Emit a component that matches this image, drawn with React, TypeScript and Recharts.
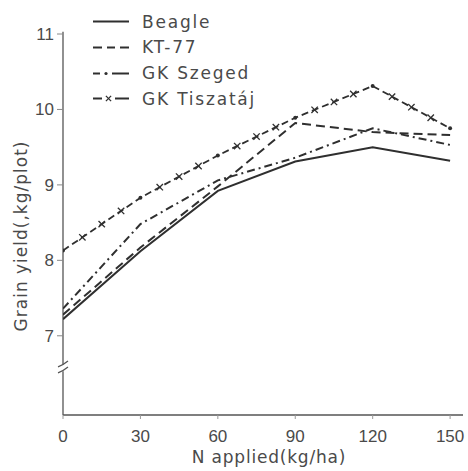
import React from 'react';
import { LineChart, Line, XAxis, YAxis, ReferenceLine, ReferenceDot, Customized } from 'recharts';

const nApplied = [0, 30, 60, 90, 120, 150];
const beagle = [7.22, 8.12, 8.92, 9.31, 9.5, 9.32];
const kt77 = [7.28, 8.17, 8.98, 9.82, 9.7, 9.66];
const gkSzeged = [7.36, 8.48, 9.06, 9.36, 9.75, 9.53];
const gkTiszataj = [8.13, 8.83, 9.39, 9.89, 10.31, 9.75];
const seriesNames = ['Beagle', 'KT-77', 'GK Szeged', 'GK Tiszatáj'];
const xTicks = [0, 30, 60, 90, 120, 150];
const yTicks = [7, 8, 9, 10, 11];

const data = nApplied.map((n, i) => ({
  n,
  beagle: beagle[i],
  kt77: kt77[i],
  szeged: gkSzeged[i],
  tisz: gkTiszataj[i],
}));

const LINE = '#2f2f2f';
const TEXT = '#4a4a4a';
const AXIS = '#555';
const FONT = '"DejaVu Sans", sans-serif';
const TICKFONT = '"Liberation Sans", Arial, sans-serif';

const XMark = ({ x, y, s = 3.2 }: { x: number; y: number; s?: number }) => (
  <g stroke={LINE} strokeWidth={1.3}>
    <line x1={x - s} y1={y - s} x2={x + s} y2={y + s} />
    <line x1={x - s} y1={y + s} x2={x + s} y2={y - s} />
  </g>
);

const TiszDot = (props: any) => {
  const { cx, cy, index, points } = props;
  const els: React.ReactNode[] = [<circle key="c" cx={cx} cy={cy} r={2} fill={LINE} />];
  if (points && index < points.length - 1) {
    const nx = points[index + 1];
    [0.25, 0.5, 0.75].forEach((t) => {
      const x = cx + (nx.x - cx) * t;
      const y = cy + (nx.y - cy) * t;
      els.push(<XMark key={'x' + t} x={x} y={y} />);
    });
  }
  return <g key={'td' + index}>{els}</g>;
};

const LegendBlock = () => {
  const x0 = 93;
  const x1 = 129;
  const tx = 142;
  const rows = [21.5, 47.5, 73.5, 98.5];
  const base = [27.5, 53, 79, 104.5];
  return (
    <g>
      <line x1={x0} y1={rows[0]} x2={x1} y2={rows[0]} stroke={LINE} strokeWidth={2} />
      <g stroke={LINE} strokeWidth={2}>
        <line x1={93} y1={rows[1]} x2={102} y2={rows[1]} />
        <line x1={107} y1={rows[1]} x2={115} y2={rows[1]} />
        <line x1={120} y1={rows[1]} x2={129} y2={rows[1]} />
      </g>
      <g stroke={LINE} strokeWidth={2}>
        <line x1={93} y1={rows[2]} x2={100} y2={rows[2]} />
        <line x1={112} y1={rows[2]} x2={129} y2={rows[2]} />
      </g>
      <circle cx={106} cy={rows[2]} r={1.6} fill={LINE} />
      <g stroke={LINE} strokeWidth={2}>
        <line x1={93} y1={rows[3]} x2={102} y2={rows[3]} />
        <line x1={115} y1={rows[3]} x2={129} y2={rows[3]} />
      </g>
      <XMark x={108.5} y={rows[3]} s={2.6} />
      {seriesNames.map((s, i) => (
        <text key={s} x={tx} y={base[i]} fill={TEXT} fontSize={17} fontFamily={FONT} letterSpacing={1.8}>
          {s}
        </text>
      ))}
    </g>
  );
};

const BreakShape = (props: any) => {
  const { cx, cy } = props;
  return (
    <g stroke={AXIS} strokeWidth={1.3} fill="none">
      <path d={`M${cx - 5},${cy + 1} Q${cx},${cy - 1} ${cx + 5},${cy - 5}`} />
      <path d={`M${cx - 5},${cy + 7} Q${cx},${cy + 5} ${cx + 5},${cy + 1}`} />
    </g>
  );
};

const YLabel = () => (
  <text
    x={27}
    y={236}
    transform="rotate(-90, 27, 236)"
    textAnchor="middle"
    fill={TEXT}
    fontSize={17}
    fontFamily={FONT}
    letterSpacing={1}
  >
    Grain yield(,kg/plot)
  </text>
);

const XLabel = () => (
  <text x={269} y={463} textAnchor="middle" fill={TEXT} fontSize={17} fontFamily={FONT} letterSpacing={0.8}>
    N applied(kg/ha)
  </text>
);

export default function App() {
  return (
    <div style={{ position: 'absolute', left: 0, top: 0, background: '#fff' }}>
      <LineChart width={468} height={471} data={data} margin={{ top: 34, right: 5, left: 0, bottom: 0 }}>
        <XAxis
          dataKey="n"
          type="number"
          domain={[0, 155]}
          ticks={xTicks}
          allowDataOverflow
          height={56}
          tickSize={4}
          tickMargin={11}
          stroke={AXIS}
          tick={{ fill: TEXT, fontSize: 17, fontFamily: TICKFONT }}
          axisLine={{ stroke: AXIS, strokeWidth: 1.3 }}
          tickLine={{ stroke: '#999' }}
        />
        <YAxis
          type="number"
          domain={[5.95, 11]}
          ticks={yTicks}
          allowDataOverflow
          width={63}
          tickSize={6}
          tickMargin={3}
          axisLine={false}
          tick={{ fill: TEXT, fontSize: 17, fontFamily: TICKFONT }}
          tickLine={{ stroke: '#888' }}
        />
        <ReferenceLine
          segment={[{ x: 0, y: 11.03 }, { x: 0, y: 6.62 }]}
          stroke={AXIS}
          strokeWidth={1.3}
          ifOverflow="visible"
        />
        <ReferenceLine
          segment={[{ x: 0, y: 6.53 }, { x: 0, y: 5.95 }]}
          stroke={AXIS}
          strokeWidth={1.3}
          ifOverflow="visible"
        />
        <ReferenceDot x={0} y={6.6} r={0} ifOverflow="visible" shape={BreakShape} />
        <Line dataKey="beagle" stroke={LINE} strokeWidth={2} dot={false} isAnimationActive={false} />
        <Line dataKey="kt77" stroke={LINE} strokeWidth={2} strokeDasharray="9 5" dot={false} isAnimationActive={false} />
        <Line
          dataKey="szeged"
          stroke={LINE}
          strokeWidth={2}
          strokeDasharray="8 4 2 4"
          dot={false}
          isAnimationActive={false}
        />
        <Line
          dataKey="tisz"
          stroke={LINE}
          strokeWidth={1.8}
          strokeDasharray="7 4"
          dot={TiszDot}
          isAnimationActive={false}
        />
        <Customized component={LegendBlock} />
        <Customized component={YLabel} />
        <Customized component={XLabel} />
      </LineChart>
    </div>
  );
}
